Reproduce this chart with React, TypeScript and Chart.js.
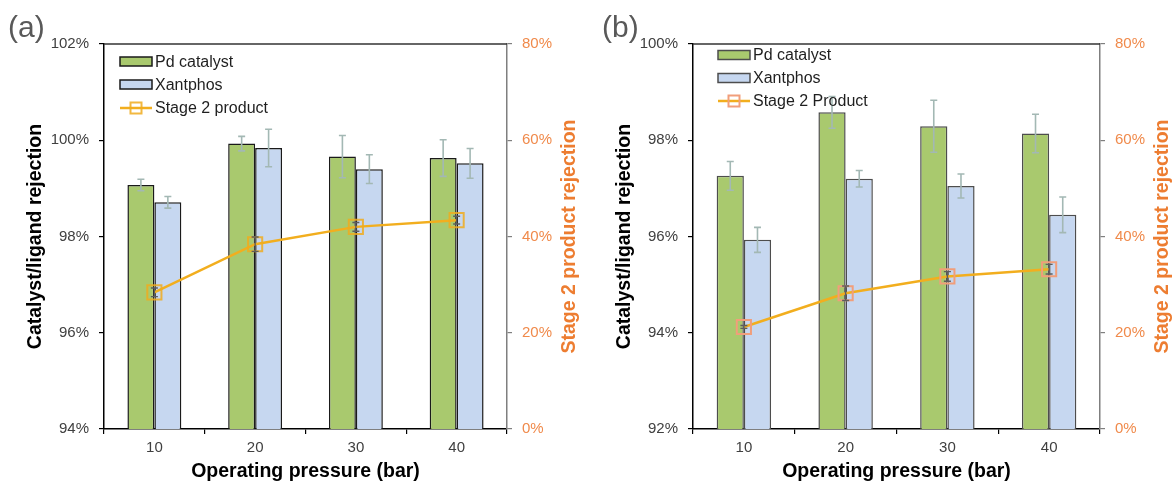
import React, { useEffect, useRef } from 'react';
import { Chart, registerables } from 'chart.js';

Chart.register(...registerables);

const FONT = '"Liberation Sans", Arial, sans-serif';

// ---- data ----
const categories = ['10', '20', '30', '40'];

const pdA = [99.07, 99.93, 99.66, 99.63];
const pdAErr = [0.12, 0.15, 0.44, 0.38];
const xantA = [98.71, 99.84, 99.4, 99.52];
const xantAErr = [0.12, 0.39, 0.3, 0.31];
const stage2A = [28.4, 38.4, 42.0, 43.4];
const stage2AErr = [0.9, 1.5, 0.9, 0.8];

const pdB = [97.26, 98.58, 98.29, 98.14];
const pdBErr = [0.3, 0.33, 0.54, 0.4];
const xantB = [95.93, 97.2, 97.05, 96.45];
const xantBErr = [0.26, 0.17, 0.25, 0.37];
const stage2B = [21.2, 28.2, 31.7, 33.2];
const stage2BErr = [0.3, 1.5, 1.0, 1.0];

const leftTicksA = { min: 94, max: 102, step: 2 };
const leftTicksB = { min: 92, max: 100, step: 2 };
const rightTicks = { min: 0, max: 80, step: 20 };

// ---- styles ----
const GREEN = '#A9C96E';
const BLUE = '#C6D7F0';
const LINE = '#F2AE1E';
const ORANGE = '#ED7D31';
const ORANGE_TICK = '#F08A4B';
const ERR = '#A3B8B4';
const LINE_ERR = '#5E5E5E';

const W = 587;
const H = 484;

type Panel = {
  tag: string;
  pd: number[];
  pdErr: number[];
  xant: number[];
  xantErr: number[];
  line: number[];
  lineErr: number[];
  lineLabel: string;
  left: { min: number; max: number; step: number };
  areaLeft: number;
  areaRight: number;
  barBorder: string;
  markerColor: string;
  tagX: number;
  yTitleX: number;
  rTitleX: number;
  legendX: number;
  legendY: number[];
};

const panels: Panel[] = [
  {
    tag: '(a)',
    pd: pdA,
    pdErr: pdAErr,
    xant: xantA,
    xantErr: xantAErr,
    line: stage2A,
    lineErr: stage2AErr,
    lineLabel: 'Stage 2 product',
    left: leftTicksA,
    areaLeft: 104,
    areaRight: 507,
    barBorder: '#1A1A1A',
    markerColor: 'rgba(240,172,30,0.85)',
    tagX: 8,
    yTitleX: 35.5,
    rTitleX: 570,
    legendX: 120,
    legendY: [61.5, 84.5, 108],
  },
  {
    tag: '(b)',
    pd: pdB,
    pdErr: pdBErr,
    xant: xantB,
    xantErr: xantBErr,
    line: stage2B,
    lineErr: stage2BErr,
    lineLabel: 'Stage 2 Product',
    left: leftTicksB,
    areaLeft: 106,
    areaRight: 513,
    barBorder: '#4D4D4D',
    markerColor: '#F19E7A',
    tagX: 15,
    yTitleX: 37.5,
    rTitleX: 576,
    legendX: 131,
    legendY: [55, 78, 101],
  },
];

function makeChart(canvas: HTMLCanvasElement, p: Panel) {
  const errs = [p.lineErr, p.pdErr, p.xantErr];

  const drawErr = (ctx: CanvasRenderingContext2D, x: number, yTop: number, yBot: number, color: string, w: number) => {
    ctx.save();
    ctx.strokeStyle = color;
    ctx.lineWidth = w;
    ctx.beginPath();
    ctx.moveTo(x, yTop);
    ctx.lineTo(x, yBot);
    ctx.moveTo(x - 3.5, yTop);
    ctx.lineTo(x + 3.5, yTop);
    ctx.moveTo(x - 3.5, yBot);
    ctx.lineTo(x + 3.5, yBot);
    ctx.stroke();
    ctx.restore();
  };

  const decor = {
    id: 'decor',
    afterDatasetDraw(chart: any, args: any) {
      const i = args.index;
      if (i === 0) return;
      const ds = chart.data.datasets[i];
      const sc = chart.scales[ds.yAxisID];
      const ctx = chart.ctx;
      args.meta.data.forEach((el: any, j: number) => {
        const v = ds.data[j];
        const e = errs[i][j];
        drawErr(ctx, el.x, sc.getPixelForValue(v + e), sc.getPixelForValue(v - e), ERR, 1.6);
      });
    },
    afterDatasetsDraw(chart: any) {
      const ds = chart.data.datasets[0];
      const sc = chart.scales.y1;
      const meta = chart.getDatasetMeta(0);
      meta.data.forEach((el: any, j: number) => {
        const v = ds.data[j];
        const e = errs[0][j];
        drawErr(chart.ctx, el.x, sc.getPixelForValue(v + e), sc.getPixelForValue(v - e), LINE_ERR, 1.4);
      });
    },
    afterDraw(chart: any) {
      const ctx: CanvasRenderingContext2D = chart.ctx;
      const a = chart.chartArea;
      ctx.save();
      // top frame line
      ctx.strokeStyle = '#333333';
      ctx.lineWidth = 1.5;
      ctx.beginPath();
      ctx.moveTo(a.left, a.top);
      ctx.lineTo(a.right, a.top);
      ctx.stroke();

      // panel tag
      ctx.fillStyle = '#595959';
      ctx.font = `30px ${FONT}`;
      ctx.textAlign = 'left';
      ctx.textBaseline = 'alphabetic';
      ctx.fillText(p.tag, p.tagX, 37);

      // axis titles
      const cy = (a.top + a.bottom) / 2;
      ctx.font = `bold 19.5px ${FONT}`;
      ctx.textAlign = 'center';
      ctx.textBaseline = 'middle';
      ctx.fillStyle = '#000000';
      ctx.fillText('Operating pressure (bar)', (a.left + a.right) / 2, 472);

      ctx.save();
      ctx.translate(p.yTitleX, cy);
      ctx.rotate(-Math.PI / 2);
      ctx.fillText('Catalyst/ligand rejection', 0, 0);
      ctx.restore();

      ctx.save();
      ctx.fillStyle = ORANGE;
      ctx.translate(p.rTitleX, cy);
      ctx.rotate(-Math.PI / 2);
      ctx.fillText('Stage 2 product rejection', 0, 0);
      ctx.restore();

      // legend
      const lx = p.legendX;
      const bw = 32;
      const bh = 9;
      ctx.font = `16px ${FONT}`;
      ctx.textAlign = 'left';
      ctx.textBaseline = 'middle';
      const items = [
        { label: 'Pd catalyst', fill: GREEN },
        { label: 'Xantphos', fill: BLUE },
      ];
      items.forEach((it, k) => {
        const y = p.legendY[k];
        ctx.fillStyle = it.fill;
        ctx.fillRect(lx, y - bh / 2, bw, bh);
        ctx.strokeStyle = p.barBorder;
        ctx.lineWidth = 1.5;
        ctx.strokeRect(lx, y - bh / 2, bw, bh);
        ctx.fillStyle = '#1F1F1F';
        ctx.fillText(it.label, lx + bw + 3, y + 1);
      });
      const y3 = p.legendY[2];
      ctx.strokeStyle = LINE;
      ctx.lineWidth = 2.5;
      ctx.beginPath();
      ctx.moveTo(lx, y3);
      ctx.lineTo(lx + bw, y3);
      ctx.stroke();
      ctx.strokeStyle = p.markerColor;
      ctx.lineWidth = 2;
      ctx.strokeRect(lx + bw / 2 - 5.5, y3 - 5.5, 11, 11);
      ctx.fillStyle = '#1F1F1F';
      ctx.fillText(p.lineLabel, lx + bw + 3, y3 + 1);
      ctx.restore();
    },
  };

  const pct = (v: any) => `${v}%`;

  return new Chart(canvas, {
    type: 'bar',
    data: {
      labels: categories,
      datasets: [
        {
          type: 'line',
          label: p.lineLabel,
          data: p.line,
          yAxisID: 'y1',
          order: 0,
          borderColor: LINE,
          borderWidth: 2.5,
          pointStyle: 'rect',
          pointRadius: 10,
          pointBorderWidth: 2,
          pointBorderColor: p.markerColor,
          pointBackgroundColor: 'rgba(0,0,0,0)',
          tension: 0,
        } as any,
        {
          label: 'Pd catalyst',
          data: p.pd,
          yAxisID: 'y',
          order: 1,
          backgroundColor: GREEN,
          borderColor: p.barBorder,
          borderWidth: 1.5,
          categoryPercentage: 0.535,
          barPercentage: 1,
        },
        {
          label: 'Xantphos',
          data: p.xant,
          yAxisID: 'y',
          order: 1,
          backgroundColor: BLUE,
          borderColor: p.barBorder,
          borderWidth: 1.5,
          categoryPercentage: 0.535,
          barPercentage: 1,
        },
      ],
    },
    options: {
      responsive: false,
      animation: false,
      events: [],
      layout: { padding: { top: 44, left: 0, right: 0, bottom: 0 } },
      plugins: { legend: { display: false }, tooltip: { enabled: false }, title: { display: false } },
      scales: {
        x: {
          offset: true,
          afterFit: (s: any) => {
            s.height = H - 429;
          },
          grid: { offset: true, drawOnChartArea: false, drawTicks: true, tickLength: 5, color: '#000000', lineWidth: 1.2 },
          border: { display: true, color: '#000000', width: 1.5 },
          ticks: { color: '#404040', font: { size: 15, family: FONT }, padding: 5 },
        },
        y: {
          position: 'left',
          min: p.left.min,
          max: p.left.max,
          afterFit: (s: any) => {
            s.width = p.areaLeft;
          },
          grid: { drawOnChartArea: false, drawTicks: true, tickLength: 5, color: '#000000', lineWidth: 1.2 },
          border: { display: true, color: '#000000', width: 1.5 },
          ticks: { stepSize: p.left.step, callback: pct, color: '#404040', font: { size: 15, family: FONT }, padding: 10 },
        },
        y1: {
          position: 'right',
          min: rightTicks.min,
          max: rightTicks.max,
          afterFit: (s: any) => {
            s.width = W - p.areaRight;
          },
          grid: { drawOnChartArea: false, drawTicks: true, tickLength: 5, color: '#7F7F7F', lineWidth: 1.2 },
          border: { display: true, color: '#7F7F7F', width: 1.5 },
          ticks: { stepSize: rightTicks.step, callback: pct, color: ORANGE_TICK, font: { size: 15, family: FONT }, padding: 10 },
        },
      },
    } as any,
    plugins: [decor],
  });
}

function PanelChart({ panel, left }: { panel: Panel; left: number }) {
  const ref = useRef<HTMLCanvasElement | null>(null);
  useEffect(() => {
    if (!ref.current) return;
    const chart = makeChart(ref.current, panel);
    return () => chart.destroy();
  }, [panel]);
  return (
    <canvas
      ref={ref}
      width={W}
      height={H}
      style={{ position: 'absolute', left, top: 0, width: W, height: H }}
    />
  );
}

export default function App() {
  return (
    <div style={{ position: 'absolute', left: 0, top: 0, width: 1174, height: 484, background: '#ffffff', overflow: 'hidden' }}>
      <PanelChart panel={panels[0]} left={0} />
      <PanelChart panel={panels[1]} left={W} />
    </div>
  );
}
